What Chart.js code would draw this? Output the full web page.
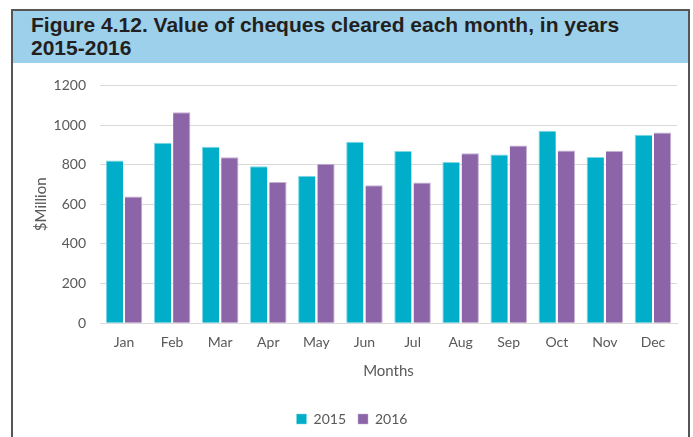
<!DOCTYPE html>
<html>
<head>
<meta charset="utf-8">
<script src="https://cdn.jsdelivr.net/npm/chart.js@4/dist/chart.umd.min.js"></script>
<style>
  body { margin: 0; background: #fff; width: 693px; height: 437px; overflow: hidden; position: relative; }
  .frame { position: absolute; left: 11px; top: 9px; width: 675px; height: 440px; border: 2px solid #555; border-bottom: none; }
  .header { background: #9dd0ea; height: 52px; padding: 2px 0 0 18px; box-sizing: border-box;
            font-family: "Liberation Sans", Arial, sans-serif; font-weight: bold; font-size: 21px;
            line-height: 23px; color: #231f20; }
  #wrap { position: absolute; left: 13px; top: 63px; width: 673px; height: 374px; }
</style>
</head>
<body>
<div class="frame">
  <div class="header">Figure 4.12. Value of cheques cleared each month, in years<br>2015-2016</div>
</div>
<div id="wrap"><canvas id="chart"></canvas></div>
<script>
// Value of cheques cleared, $Million
const months = ['Jan', 'Feb', 'Mar', 'Apr', 'May', 'Jun', 'Jul', 'Aug', 'Sep', 'Oct', 'Nov', 'Dec'];
const values2015 = [821, 910, 891, 792, 744, 916, 869, 814, 851, 971, 839, 951];
const values2016 = [639, 1064, 838, 713, 804, 696, 710, 858, 897, 872, 869, 962];
const yTicks = [0, 200, 400, 600, 800, 1000, 1200];

const textColor = '#595959';
const fontFamily = 'Lato, "Open Sans", sans-serif';

var ctx = document.getElementById('chart').getContext('2d');
var chequesChart = new Chart(ctx, {
    type: 'bar',
    data: {
        labels: months,
        datasets: [{
            label: '2015',
            data: values2015,
            backgroundColor: '#00aec9',
            borderColor: '#7fd6e4',
            borderWidth: { top: 1, left: 1, right: 0, bottom: 0 },
            borderSkipped: false
        }, {
            label: '2016',
            data: values2016,
            backgroundColor: '#8b65a7',
            borderColor: '#c5b2d3',
            borderWidth: { top: 1, left: 0, right: 1, bottom: 0 },
            borderSkipped: false
        }]
    },
    options: {
        responsive: true,
        maintainAspectRatio: false,
        animation: false,
        layout: { padding: { left: 14, right: 9, top: 22, bottom: 1 } },
        scales: {
            x: {
                grid: { display: false, drawTicks: false },
                border: { color: '#d9d9d9', width: 1 },
                ticks: { color: textColor, font: { family: fontFamily, size: 14 }, padding: 11 },
                categoryPercentage: 0.58,
                barPercentage: 1.0,
                title: { display: true, text: 'Months', color: textColor, font: { family: fontFamily, size: 15 }, padding: { top: 0, bottom: 20 } }
            },
            y: {
                min: 0,
                max: 1200,
                afterBuildTicks: function(axis) { axis.ticks = yTicks.map(v => ({ value: v })); },
                afterFit: function(axis) { axis.width = 73; },
                grid: { color: '#d9d9d9', drawTicks: false },
                border: { display: false },
                ticks: { color: textColor, font: { family: fontFamily, size: 14 }, padding: 14, callback: v => String(v) },
                title: { display: true, text: '$Million', color: textColor, font: { family: fontFamily, size: 15 }, padding: { top: 5, bottom: 0 } }
            }
        },
        plugins: {
            legend: {
                position: 'bottom',
                labels: { color: textColor, font: { family: fontFamily, size: 14 }, boxWidth: 10, boxHeight: 10, padding: 12 }
            },
            tooltip: { enabled: false }
        }
    }
});
</script>
</body>
</html>
